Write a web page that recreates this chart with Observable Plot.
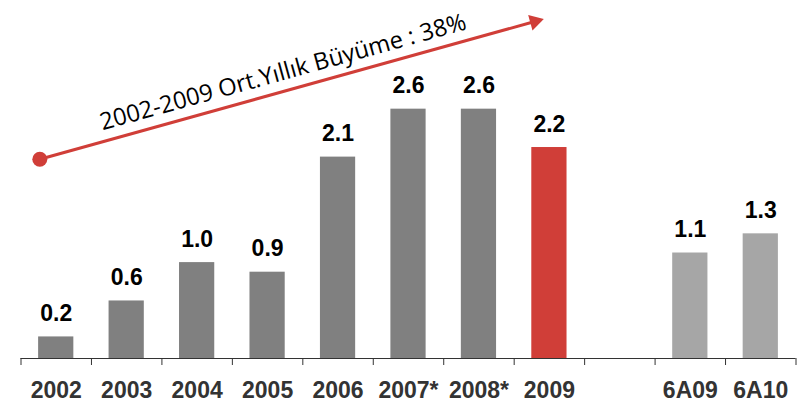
<!DOCTYPE html>
<html>
<head>
<meta charset="utf-8">
<script src="https://cdn.jsdelivr.net/npm/d3@7"></script>
<script src="https://cdn.jsdelivr.net/npm/@observablehq/plot@0.6"></script>
<style>
  html, body { margin: 0; padding: 0; background: #fff; }
  #chart svg { display: block; }
</style>
</head>
<body>
<div id="chart"></div>
<script>
// ---- data ----
const categories = ["2002", "2003", "2004", "2005", "2006", "2007*", "2008*", "2009", "", "6A09", "6A10"];
const values = [0.225, 0.6, 1.0, 0.9, 2.1, 2.6, 2.6, 2.2, null, 1.1, 1.3];
const valueLabels = ["0.2", "0.6", "1.0", "0.9", "2.1", "2.6", "2.6", "2.2", "", "1.1", "1.3"];
const groups = ["hist", "hist", "hist", "hist", "hist", "hist", "hist", "current", "none", "ytd", "ytd"];
const tickPositions = [0, 1, 2, 3, 4, 5, 6, 7, 8, 9, 10, 11];

// trend annotation (in data units: x = category index, y = value)
const trendStart = [0.267, 2.078];
const trendEnd = [7.293, 3.514];
const trendLabel = "2002-2009 Ort.Yıllık Büyüme : 38%";
const trendLabelPos = [3.72, 2.985];

const colors = {hist: "#808080", current: "#d03e38", ytd: "#a6a6a6", none: "none"};
const red = "#d03e38";

const rows = categories.map((c, i) => ({
  i, cat: c, value: values[i], label: valueLabels[i], group: groups[i]
}));
const bars = rows.filter(d => d.value != null);

const chart = Plot.plot({
  width: 809,
  height: 406,
  marginLeft: 20.5,
  marginRight: 13.5,
  marginTop: 20,
  marginBottom: 48,
  x: {domain: [0, 11], axis: null},
  y: {domain: [0, 3.5245], axis: null},
  style: {background: "#fff"},
  marks: [
    Plot.rectY(bars, {
      x1: d => d.i + 0.25,
      x2: d => d.i + 0.75,
      y1: 0,
      y2: "value",
      fill: d => colors[d.group]
    }),
    Plot.ruleY([0], {stroke: "#333", strokeWidth: 1}),
    Plot.axisX({
      ticks: tickPositions,
      tickSize: 7,
      tickFormat: () => "",
      stroke: "#333",
      strokeOpacity: 1
    }),
    Plot.text(bars, {
      x: d => d.i + 0.5,
      y: "value",
      text: "label",
      dy: -16,
      lineAnchor: "bottom",
      fontSize: 23,
      fontWeight: "bold",
      fontFamily: "Liberation Sans, Arial, sans-serif",
      fill: "#000"
    }),
    Plot.text(rows, {
      x: d => d.i + 0.5,
      y: 0,
      text: "cat",
      dy: 39,
      lineAnchor: "bottom",
      fontSize: 23,
      fontWeight: "bold",
      fontFamily: "Liberation Sans, Arial, sans-serif",
      fill: "#333"
    }),
    // trend arrow
    Plot.link([{x1: trendStart[0], y1: trendStart[1], x2: trendEnd[0], y2: trendEnd[1]}], {
      x1: "x1", y1: "y1", x2: "x2", y2: "y2",
      stroke: red, strokeWidth: 3
    }),
    Plot.dot([trendStart], {x: d => d[0], y: d => d[1], r: 7.5, fill: red, stroke: null}),
    Plot.dot([trendEnd], {x: d => d[0], y: d => d[1], symbol: "triangle", r: 6, rotate: 74.5, fill: red, stroke: null}),
    Plot.text([trendLabel], {
      x: () => trendLabelPos[0],
      y: () => trendLabelPos[1],
      text: d => d,
      rotate: -15.5,
      textAnchor: "middle",
      lineAnchor: "middle",
      fontSize: 23.8,
      fontFamily: "Open Sans, sans-serif",
      fill: "#000"
    })
  ]
});
document.getElementById("chart").appendChild(chart);
</script>
</body>
</html>
